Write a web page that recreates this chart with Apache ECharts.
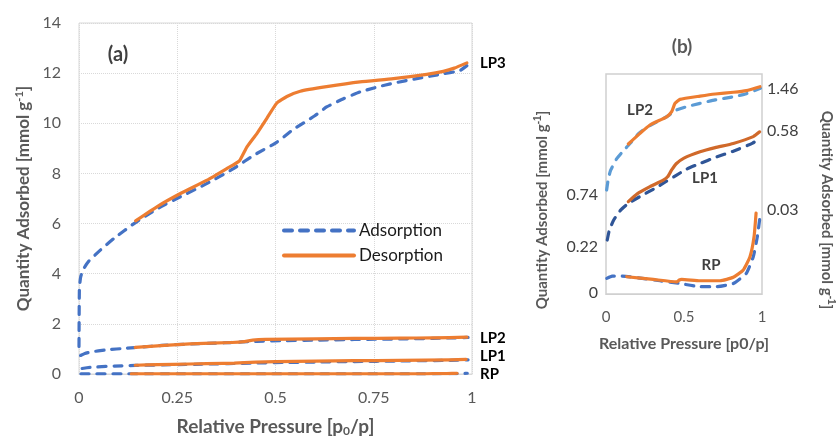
<!DOCTYPE html>
<html><head><meta charset="utf-8">
<script src="https://cdn.jsdelivr.net/npm/echarts@6/dist/echarts.min.js"></script>
<style>html,body{margin:0;padding:0;background:#fff}#c{width:839px;height:442px}</style>
</head><body><div id="c"></div>
<script>
// ---- data (relative pressure, quantity adsorbed mmol/g) ----
const lp3Ads = [[0,1.1],[0.001,3.4],[0.004,3.85],[0.01,4.15],[0.025,4.5],[0.055,4.95],[0.09,5.42],[0.14,6.0],[0.2,6.6],[0.258,7.07],[0.326,7.6],[0.393,8.19],[0.444,8.72],[0.503,9.24],[0.545,9.75],[0.6,10.3],[0.63,10.65],[0.673,10.98],[0.715,11.25],[0.76,11.45],[0.8,11.6],[0.859,11.78],[0.926,11.97],[0.969,12.1],[0.987,12.3]];
const lp3Des = [[0.144,6.11],[0.199,6.68],[0.258,7.2],[0.326,7.73],[0.376,8.19],[0.408,8.5],[0.427,9.05],[0.453,9.6],[0.478,10.2],[0.503,10.8],[0.529,11.07],[0.563,11.28],[0.63,11.46],[0.715,11.65],[0.8,11.78],[0.885,11.95],[0.927,12.07],[0.955,12.2],[0.987,12.41]];
const lp2Ads = [[0.004,0.74],[0.015,0.82],[0.03,0.88],[0.068,0.96],[0.122,1.03],[0.16,1.075],[0.21,1.14],[0.282,1.195],[0.37,1.246],[0.40,1.265],[0.43,1.29],[0.453,1.305],[0.517,1.328],[0.603,1.352],[0.7,1.376],[0.816,1.398],[0.9,1.42],[0.99,1.458]];
const lp2Des = [[0.143,1.065],[0.218,1.14],[0.282,1.199],[0.389,1.257],[0.421,1.293],[0.442,1.352],[0.474,1.38],[0.603,1.403],[0.7,1.418],[0.816,1.43],[0.9,1.442],[0.987,1.469]];
const lp1Ads = [[0.008,0.22],[0.02,0.25],[0.047,0.285],[0.09,0.318],[0.143,0.343],[0.235,0.371],[0.32,0.395],[0.38,0.415],[0.45,0.437],[0.517,0.458],[0.603,0.477],[0.7,0.497],[0.816,0.518],[0.94,0.545],[0.99,0.565]];
const lp1Des = [[0.143,0.349],[0.2,0.375],[0.282,0.399],[0.367,0.421],[0.395,0.432],[0.421,0.455],[0.45,0.476],[0.5,0.495],[0.603,0.516],[0.7,0.53],[0.816,0.544],[0.944,0.567],[0.985,0.583]];
const rpAds = [[0.005,0.0058],[0.04,0.0066],[0.09,0.0067],[0.173,0.0062],[0.346,0.0049],[0.474,0.0039],[0.603,0.0027],[0.71,0.0027],[0.816,0.0039],[0.9,0.0077],[0.944,0.0138],[0.97,0.0212],[0.988,0.029]];
const rpDes = [[0.133,0.0064],[0.303,0.0054],[0.453,0.0045],[0.47,0.0052],[0.485,0.0054],[0.603,0.0049],[0.731,0.0049],[0.816,0.0062],[0.88,0.0089],[0.923,0.0138],[0.949,0.0212],[0.962,0.03]];

const sampleNames = ['LP3','LP2','LP1','RP'];
const legendNames = ['Adsorption','Desorption'];
// inset (b) annotation values
const insetStartLabels = ['0.74','0.22','0'];
const insetEndLabels = ['1.46','0.58','0.03'];
// inset per-curve axis ranges [min,max] for LP2, LP1, RP
const insetRanges = [[0.006,1.559],[0.039,0.777],[0,0.0815]];

const FONT = 'Lato, "Open Sans", sans-serif';
const BLUE = '#4472C4', ORANGE = '#ED7D31';

function ser(name, data, xi, yi, color, dashed, z) {
  return {
    name, type: 'line', data, xAxisIndex: xi, yAxisIndex: yi,
    symbol: 'none', smooth: 0.15, z: z || 2,
    color,
    itemStyle: { color },
    lineStyle: { color, width: 3.2, type: dashed ? [8, 8] : 'solid', cap: 'round', join: 'round' },
    emphasis: { disabled: true }, animation: false
  };
}

const chart = echarts.init(document.getElementById('c'), null, { renderer: 'canvas' });
const option = {
  animation: false,
  textStyle: { fontFamily: FONT },
  grid: [
    { left: 79, top: 23, width: 393, height: 355, show: true, borderColor: '#D9D9D9', borderWidth: 1 },
    { left: 606, top: 74, width: 156, height: 220, show: true, borderColor: '#D0D0D0', borderWidth: 1.5 }
  ],
  legend: {
    data: legendNames, orient: 'vertical', left: 277, top: 217,
    itemWidth: 70, itemHeight: 14, itemGap: 8,
    itemStyle: { opacity: 0 },
    lineStyle: { width: 4 },
    textStyle: { fontSize: 17, color: '#1a1a1a', fontFamily: FONT },
    selectedMode: false
  },
  xAxis: [
    { type: 'value', gridIndex: 0, min: 0, max: 1, interval: 0.25,
      axisLine: { lineStyle: { color: '#D9D9D9' } }, axisTick: { show: false },
      axisLabel: { color: '#595959', fontSize: 16, margin: 16, fontFamily: FONT },
      splitLine: { lineStyle: { color: '#D9D9D9', type: 'dotted' } },
      name: 'Relative Pressure [p{sub|0}/p]', nameLocation: 'middle', nameGap: 43,
      nameTextStyle: { color: '#595959', fontSize: 19, fontWeight: 'bold', fontFamily: FONT,
        rich: { sub: { fontSize: 12, fontWeight: 'bold', color: '#595959', verticalAlign: 'bottom', padding: [8,0,0,0] } } } },
    { type: 'value', gridIndex: 1, min: 0, max: 1, interval: 0.5,
      axisLine: { lineStyle: { color: '#D0D0D0' } }, axisTick: { show: false },
      axisLabel: { color: '#595959', fontSize: 15, margin: 16, fontFamily: FONT },
      splitLine: { show: false },
      name: 'Relative Pressure [p0/p]', nameLocation: 'middle', nameGap: 42,
      nameTextStyle: { color: '#595959', fontSize: 16, fontWeight: 'bold', fontFamily: FONT } }
  ],
  yAxis: [
    { type: 'value', gridIndex: 0, min: 0, max: 14, interval: 2,
      axisLine: { show: false }, axisTick: { show: false },
      axisLabel: { color: '#595959', fontSize: 16, margin: 18, fontFamily: FONT },
      splitLine: { lineStyle: { color: '#D9D9D9', type: 'dotted' } },
      name: 'Quantity Adsorbed [mmol g{sup|-1}]', nameLocation: 'middle', nameGap: 46,
      nameTextStyle: { color: '#595959', fontSize: 17, fontWeight: 'bold', fontFamily: FONT,
        rich: { sup: { fontSize: 11, fontWeight: 'bold', color: '#595959', verticalAlign: 'top', padding: [0,0,8,0] } } } },
    { type: 'value', gridIndex: 1, min: insetRanges[0][0], max: insetRanges[0][1], show: false, splitLine: { show: false } },
    { type: 'value', gridIndex: 1, min: insetRanges[1][0], max: insetRanges[1][1], show: false, splitLine: { show: false } },
    { type: 'value', gridIndex: 1, min: insetRanges[2][0], max: insetRanges[2][1], show: false, splitLine: { show: false } }
  ],
  series: [
    ser('Adsorption', lp3Ads, 0, 0, BLUE, true),
    ser('Adsorption', lp2Ads, 0, 0, BLUE, true),
    ser('Adsorption', lp1Ads, 0, 0, BLUE, true),
    ser('Adsorption', rpAds, 0, 0, BLUE, true),
    ser('Desorption', lp3Des, 0, 0, ORANGE, false, 3),
    ser('Desorption', lp2Des, 0, 0, ORANGE, false, 3),
    ser('Desorption', lp1Des, 0, 0, ORANGE, false, 3),
    ser('Desorption', rpDes, 0, 0, ORANGE, false, 3),
    ser('LP2 ads b', lp2Ads, 1, 1, '#5B9BD5', true),
    ser('LP1 ads b', lp1Ads, 1, 2, '#2F5597', true),
    ser('RP ads b', rpAds, 1, 3, BLUE, true),
    ser('LP2 des b', lp2Des, 1, 1, ORANGE, false, 3),
    ser('LP1 des b', lp1Des, 1, 2, '#D0692A', false, 3),
    ser('RP des b', rpDes, 1, 3, ORANGE, false, 3)
  ]
};
chart.setOption(option);

// annotations positioned through the chart's own scales
const g = [];
const endsA = [lp3Des, lp2Des, lp1Des, rpDes];
const endOffsetsA = [0, 1, -3, 1];
sampleNames.forEach((n, i) => {
  const last = endsA[i][endsA[i].length - 1];
  const p = chart.convertToPixel({ xAxisIndex: 0, yAxisIndex: 0 }, [1, last[1]]);
  g.push({ type: 'text', x: p[0] + 8, y: p[1] + endOffsetsA[i],
    style: { text: n, font: 'bold 15px ' + FONT, fill: '#000', textVerticalAlign: 'middle', textAlign: 'left' } });
});
const startOffsets = [5, 7, -1];
const endOffsets = [1, -2, -3];
insetStartLabels.forEach((t, i) => {
  const p = chart.convertToPixel({ xAxisIndex: 1, yAxisIndex: 1 + i }, [0, parseFloat(t)]);
  g.push({ type: 'text', x: p[0] - 8, y: p[1] + startOffsets[i],
    style: { text: t, font: '16px ' + FONT, fill: '#404040', textAlign: 'right', textVerticalAlign: 'middle' } });
});
insetEndLabels.forEach((t, i) => {
  const p = chart.convertToPixel({ xAxisIndex: 1, yAxisIndex: 1 + i }, [1, parseFloat(t)]);
  g.push({ type: 'text', x: p[0] + 5, y: p[1] + endOffsets[i],
    style: { text: t, font: '16px ' + FONT, fill: '#404040', textAlign: 'left', textVerticalAlign: 'middle' } });
});
// panel titles and inset sample names
g.push({ type: 'text', x: 118, y: 55, style: { text: '(a)', font: 'bold 20px ' + FONT, fill: '#404040', textAlign: 'center', textVerticalAlign: 'middle' } });
g.push({ type: 'text', x: 682, y: 47, style: { text: '(b)', font: 'bold 19px ' + FONT, fill: '#595959', textAlign: 'center', textVerticalAlign: 'middle' } });
[['LP2', 640, 110], ['LP1', 705, 178], ['RP', 711, 265]].forEach(a => {
  g.push({ type: 'text', x: a[1], y: a[2], style: { text: a[0], font: 'bold 15px ' + FONT, fill: '#404040', textAlign: 'center', textVerticalAlign: 'middle' } });
});
// inset axis titles
const supRich = { sup: { fontSize: 10, fontWeight: 'bold', fill: '#595959', verticalAlign: 'top', padding: [0,0,8,0] } };
g.push({ type: 'text', x: 542, y: 210, rotation: Math.PI / 2,
  style: { text: 'Quantity Adsorbed [mmol g{sup|-1}]', font: 'bold 15px ' + FONT, fill: '#595959', textAlign: 'center', textVerticalAlign: 'middle', rich: supRich } });
g.push({ type: 'text', x: 827, y: 210, rotation: -Math.PI / 2,
  style: { text: 'Quantity Adsorbed [mmol g{sup|-1}]', font: 'bold 15px ' + FONT, fill: '#595959', textAlign: 'center', textVerticalAlign: 'middle', rich: supRich } });
chart.setOption({ graphic: g });
</script>
</body></html>
